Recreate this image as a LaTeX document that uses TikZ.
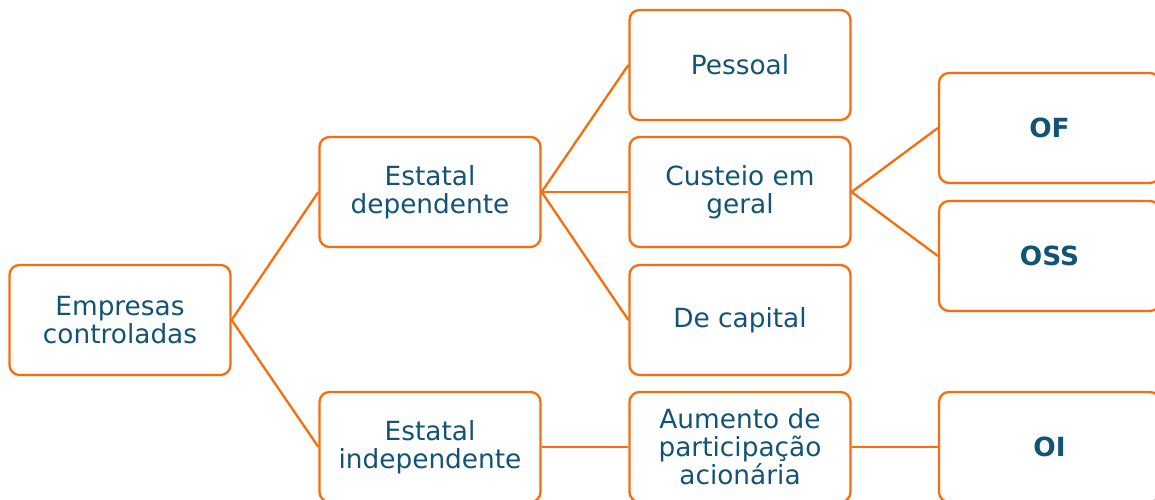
\documentclass[tikz,border=0pt]{standalone}
\usepackage{fontspec}
\setmainfont{DejaVu Sans}
\usetikzlibrary{positioning}
\definecolor{boxorange}{RGB}{250,108,12}
\definecolor{boxtext}{RGB}{18,84,118}

\begin{document}
\begin{tikzpicture}[
  item/.style={draw=boxorange,line width=1.3pt,rounded corners=0.2cm,fill=white,
    minimum width=4.42cm,minimum height=2.2cm,align=center,text=boxtext,
    font=\fontsize{15}{16}\selectfont},
  leaf/.style={item,font=\fontsize{15}{16}\selectfont\bfseries},
  link/.style={draw=boxorange,line width=1.3pt}]
\useasboundingbox (0,0) rectangle (23.1,10);

\node[item] (EC) at (2.4,3.6) {Empresas\\controladas};
\node[item] (ED) at (8.6,6.16) {Estatal\\dependente};
\node[item] (EI) at (8.6,1.06) {Estatal\\independente};

\node[item] (P) at (14.8,8.7) {Pessoal};
\node[item] (CG) at (14.8,6.16) {Custeio em\\geral};
\node[item] (DC) at (14.8,3.6) {De capital};
\node[item] (AP) at (14.8,1.06) {Aumento de\\participação\\acionária};

\node[leaf] (OF) at (20.99,7.44) {OF};
\node[leaf] (OSS) at (20.99,4.88) {OSS};
\node[leaf] (OI) at (20.99,1.06) {OI};

\draw[link] (EC.east) -- (ED.west);
\draw[link] (EC.east) -- (EI.west);
\draw[link] (ED.east) -- (P.west);
\draw[link] (ED.east) -- (CG.west);
\draw[link] (ED.east) -- (DC.west);
\draw[link] (CG.east) -- (OF.west);
\draw[link] (CG.east) -- (OSS.west);
\draw[link] (EI.east) -- (AP.west);
\draw[link] (AP.east) -- (OI.west);

\end{tikzpicture}
\end{document}
